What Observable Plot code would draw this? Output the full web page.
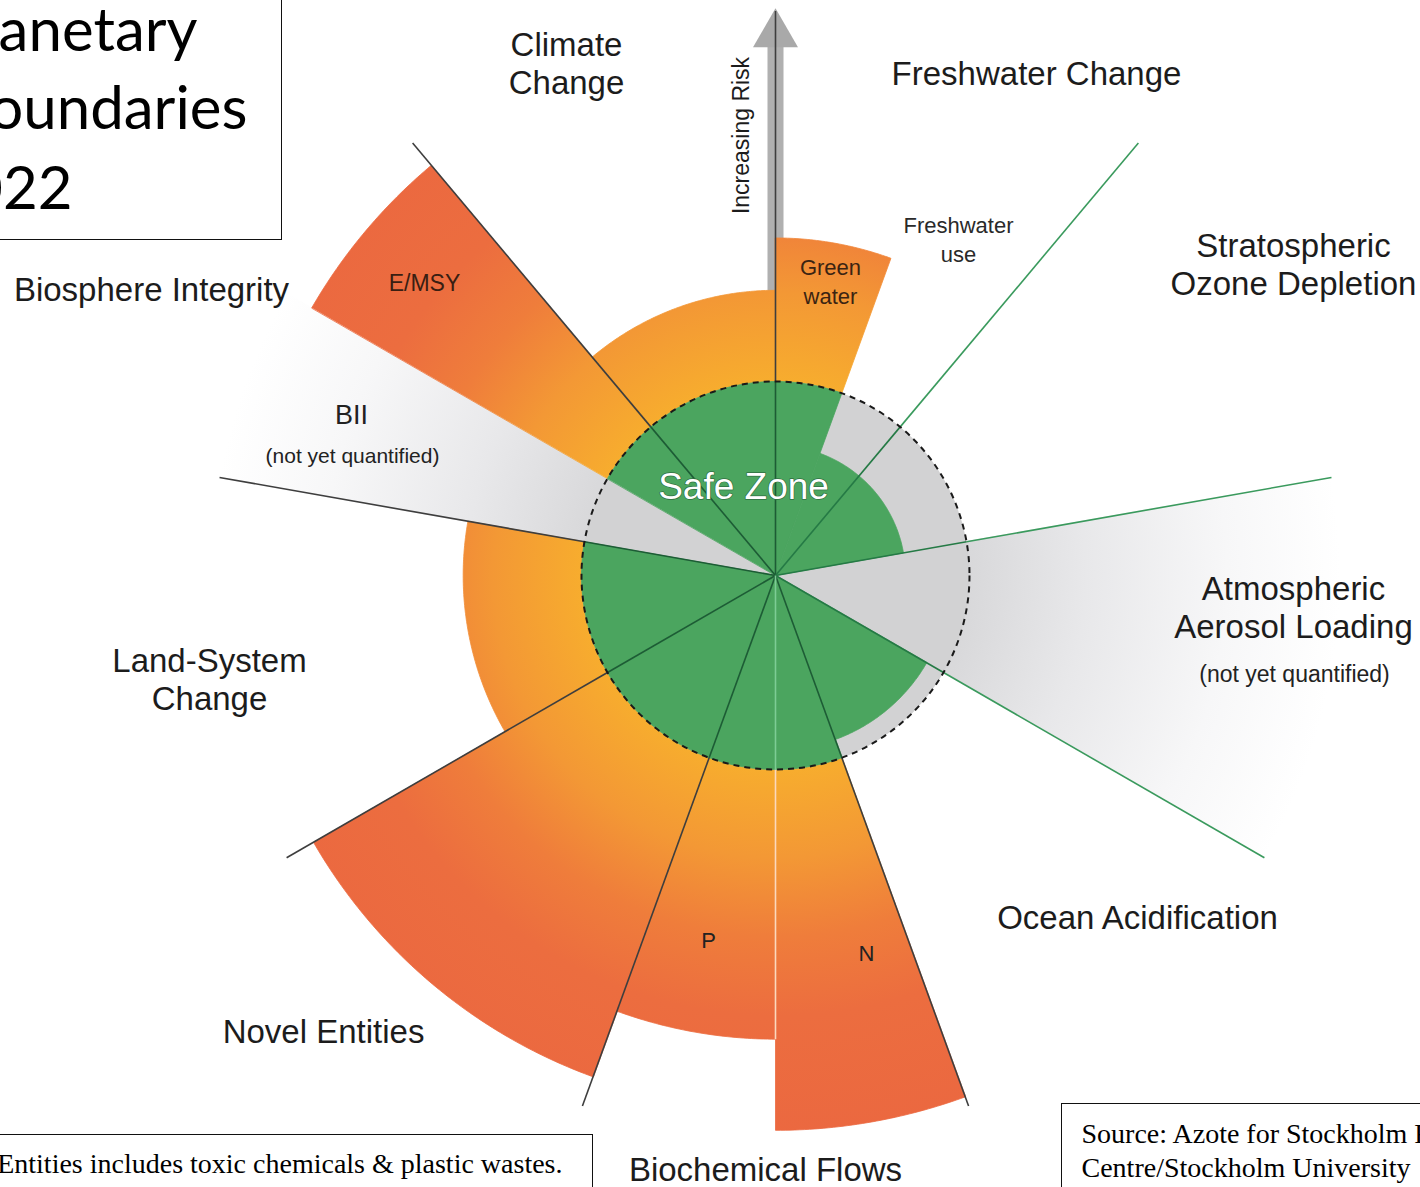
<!DOCTYPE html>
<html>
<head>
<meta charset="utf-8">
<script src="https://cdn.jsdelivr.net/npm/d3@7"></script>
<script src="https://cdn.jsdelivr.net/npm/@observablehq/plot@0.6"></script>
<style>
  html, body { margin: 0; padding: 0; background: #fff; }
  #wrap { position: relative; width: 1420px; height: 1187px; overflow: hidden; background: #fff; }
  #chart { position: absolute; left: 0; top: 0; }
  .box { position: absolute; border: 1.5px solid #111; box-sizing: border-box; pointer-events: none; }
</style>
</head>
<body>
<div id="wrap">
  <div id="chart"></div>
  <div class="box" style="left:-60px; top:-10px; width:342px; height:250px;"></div>
  <div class="box" style="left:-60px; top:1134px; width:653px; height:120px;"></div>
  <div class="box" style="left:1061px; top:1103px; width:420px; height:140px;"></div>
</div>
<script>
// ---------------- DATA ----------------
const boundaryNames = [
  "Climate Change", "Freshwater Change", "Stratospheric Ozone Depletion",
  "Atmospheric Aerosol Loading", "Ocean Acidification", "Biochemical Flows",
  "Novel Entities", "Land-System Change", "Biosphere Integrity"
];
// control variables (sub-segments), in clockwise order
const segmentNames = [
  "Climate change", "Green water", "Freshwater use", "Ozone depletion",
  "Aerosol loading", "Ocean acidification", "N", "P", "Novel entities",
  "Land-system change", "BII", "E/MSY"
];
const segmentBoundary = [0, 1, 1, 2, 3, 4, 5, 5, 6, 7, 8, 8];
// status relative to the boundary (1 = edge of safe zone); null = not yet quantified
const segmentValue = [1.47, 1.74, 0.67, 0.67, null, 0.90, 2.86, 2.39, 2.75, 1.61, null, 2.76];
const safeLimit = 1;
const scaleMax = 2.91;

// label texts
const boundaryLabels = [
  "Climate\nChange", "Freshwater Change", "Stratospheric\nOzone Depletion",
  "Atmospheric\nAerosol Loading", "Ocean Acidification", "Biochemical Flows",
  "Novel Entities", "Land-System\nChange", "Biosphere Integrity"
];
const segmentLabels = ["Green\nwater", "Freshwater\nuse", "P", "N", "E/MSY", "BII", "(not yet quantified)", "(not yet quantified)"];
const titleLines = ["Planetary", "Boundaries", "2022"];
const noteText = "Novel Entities includes toxic chemicals & plastic wastes.";
const sourceLines = ["Source: Azote for Stockholm Resilience", "Centre/Stockholm University"];
const axisLabel = "Increasing Risk";
const safeLabel = "Safe Zone";

// ---------------- LAYOUT ----------------
const W = 1420, H = 1187;
const CX = 775, CY = 575, R0 = 194;
const deg = Math.PI / 180;
const px = (a, r) => CX + r * R0 * Math.sin(a * deg);
const py = (a, r) => CY - r * R0 * Math.cos(a * deg);

const span = 360 / boundaryNames.length;
const firstStart = -span;

const segments = segmentNames.map((name, i) => {
  const b = segmentBoundary[i];
  const sib = segmentBoundary.map((bb, j) => bb === b ? j : -1).filter(j => j >= 0);
  const k = sib.indexOf(i), n = sib.length;
  const a0 = firstStart + b * span + k * span / n;
  return {name, b, a0, a1: a0 + span / n, value: segmentValue[i]};
});

function wedge(key, a0, a1, r0, r1) {
  const pts = [];
  const n = Math.max(2, Math.ceil((a1 - a0) / 0.5));
  for (let i = 0; i <= n; i++) {
    const a = a0 + (a1 - a0) * i / n;
    pts.push({key, x: px(a, r1), y: py(a, r1)});
  }
  if (r0 === 0) pts.push({key, x: CX, y: CY});
  else for (let i = n; i >= 0; i--) {
    const a = a0 + (a1 - a0) * i / n;
    pts.push({key, x: px(a, r0), y: py(a, r0)});
  }
  return pts;
}

const greyOuter = segments.filter(s => s.value == null).flatMap(s => wedge(s.name, s.a0, s.a1, 0, scaleMax));
const orange = segments.filter(s => s.value != null && s.value > safeLimit).flatMap(s => wedge(s.name, s.a0, s.a1, 0, s.value));
const green = segments.filter(s => s.value != null).flatMap(s => wedge(s.name, s.a0, s.a1, 0, Math.min(s.value, safeLimit)));

// dividers
const norm = a => ((a % 360) + 360) % 360;
const dividers = [];
boundaryNames.forEach((bn, i) => {
  const a = firstStart + i * span;
  const adj = segments.filter(s => Math.abs(norm(s.a1) - norm(a)) < 1e-6 || Math.abs(norm(s.a0) - norm(a)) < 1e-6);
  const over = adj.some(s => s.value != null && s.value > safeLimit);
  dividers.push({a, len: scaleMax, kind: over ? "dark" : "green"});
});
// internal divider between two sub-segments that both exceed the boundary
boundaryNames.forEach((bn, b) => {
  const sub = segments.filter(s => s.b === b);
  if (sub.length === 2 && sub.every(s => s.value != null && s.value > safeLimit)) {
    dividers.push({a: sub[0].a1, len: Math.min(sub[0].value, sub[1].value), kind: "internal"});
  }
});
const outerColor = {dark: "#3e3e3e", green: "#3a9a5d", internal: "#fbd8bd"};
const innerColor = {dark: "#1d5c35", green: "#257a45", internal: "#7dcc95"};

// label placement (page pixels)
const boundaryLabelPos = [
  [566, 62], [1036, 72], [1293, 263], [1293, 606], [1137, 916],
  [765, 1168], [323, 1030], [209, 678], [151, 288]
];
const segLabelPos = [
  {x: 830, y: 280, size: 22, color: "#3b2412"},
  {x: 958, y: 238, size: 22, color: "#2a2a2a"},
  {x: 708, y: 938, size: 22, color: "#222"},
  {x: 866, y: 951, size: 22, color: "#222"},
  {x: 424, y: 281, size: 23, color: "#3a1e12"},
  {x: 351, y: 412, size: 27, color: "#222"},
  {x: 352, y: 454, size: 21, color: "#222"},
  {x: 1294, y: 672, size: 23, color: "#222"}
];

const font = "'Liberation Sans', Arial, Helvetica, sans-serif";
const serif = "'Liberation Serif', 'Times New Roman', serif";

const bLabels = boundaryLabels.map((t, i) => ({t, x: boundaryLabelPos[i][0], y: boundaryLabelPos[i][1]}));
const sLabels = segmentLabels.map((t, i) => ({t, ...segLabelPos[i]}));

const titleLayout = [[197, 50], [247, 128], [72, 208]];
const titleData = titleLines.map((t, i) => ({t, x: titleLayout[i][0], y: titleLayout[i][1]}));
const sourceLayout = [[1081, 1142], [1081, 1176]];
const sourceData = sourceLines.map((t, i) => ({t, x: sourceLayout[i][0], y: sourceLayout[i][1]}));

const svg = Plot.plot({
  width: W, height: H,
  margin: 0,
  x: {domain: [0, W], range: [0, W], axis: null},
  y: {domain: [0, H], range: [0, H], axis: null},
  marks: [
    // risk arrow (beneath wedges)
    Plot.link([0], {x1: a => px(a, safeLimit), y1: a => py(a, safeLimit), x2: a => px(a, 2.73), y2: a => py(a, 2.73),
      stroke: "#b0b0b0", strokeWidth: 16, strokeLinecap: "butt"}),
    Plot.dot([0], {x: a => px(a, 2.79), y: a => py(a, 2.79), symbol: "triangle", r: 16.7, fill: "#a9a9a9", stroke: "none"}),
    // not-quantified sectors (grey fading)
    Plot.line(greyOuter, {x: "x", y: "y", z: "key", fill: "url(#greyGrad)", stroke: "url(#greyGrad)", strokeWidth: 0.8, curve: "linear-closed"}),
    // transgressed boundaries
    Plot.line(orange, {x: "x", y: "y", z: "key", fill: "url(#orangeGrad)", stroke: "url(#orangeGrad)", strokeWidth: 0.8, curve: "linear-closed"}),
    // safe operating space
    Plot.dot([0], {x: () => CX, y: () => CY, r: safeLimit * R0, fill: "#d2d2d3", stroke: "none"}),
    Plot.line(green, {x: "x", y: "y", z: "key", fill: "#4ba55f", stroke: "#4ba55f", strokeWidth: 0.8, curve: "linear-closed"}),
    // dividers
    Plot.link(dividers, {x1: d => px(d.a, safeLimit), y1: d => py(d.a, safeLimit), x2: d => px(d.a, d.len), y2: d => py(d.a, d.len),
      stroke: d => outerColor[d.kind], strokeWidth: 1.6}),
    Plot.link(dividers, {x1: () => CX, y1: () => CY, x2: d => px(d.a, safeLimit), y2: d => py(d.a, safeLimit),
      stroke: d => innerColor[d.kind], strokeWidth: 1.6}),
    Plot.dot([0], {x: () => CX, y: () => CY, r: safeLimit * R0, fill: "none", stroke: "#1a1a1a", strokeWidth: 2, strokeDasharray: "6,5"}),
    // labels
    Plot.text(bLabels, {x: "x", y: "y", text: "t", fontFamily: font, fontSize: 33, fill: "#1c1c1c", lineHeight: 1.18, lineAnchor: "middle", textAnchor: "middle"}),
    Plot.text(sLabels, {x: "x", y: "y", text: "t", fontFamily: font, fontSize: d => d.size, fill: d => d.color, lineHeight: 1.28, lineAnchor: "middle", textAnchor: "middle"}),
    Plot.text([safeLabel], {x: () => 743, y: () => 487, text: d => d, fontFamily: font, fontSize: 37, fill: "#ffffff", stroke: "#2f6f42", strokeWidth: 1.4, paintOrder: "stroke", lineAnchor: "middle", textAnchor: "middle"}),
    Plot.text([axisLabel], {x: () => 741, y: () => 135, text: d => d, rotate: -90, fontFamily: font, fontSize: 23, fill: "#1c1c1c", lineAnchor: "middle", textAnchor: "middle"}),
    // title, note, source
    Plot.text(titleData, {x: "x", y: "y", text: "t", fontFamily: "Lato, 'Open Sans', sans-serif", fontSize: 60, fill: "#000", textAnchor: "end", lineAnchor: "bottom"}),
    Plot.text([noteText], {x: () => 562, y: () => 1172, text: d => d, fontFamily: serif, fontSize: 28, fill: "#000", textAnchor: "end", lineAnchor: "bottom"}),
    Plot.text(sourceData, {x: "x", y: "y", text: "t", fontFamily: serif, fontSize: 28, fill: "#000", textAnchor: "start", lineAnchor: "bottom"})
  ]
});

// gradient definitions
const defs = d3.select(svg).insert("defs", ":first-child");
const og = defs.append("radialGradient").attr("id", "orangeGrad").attr("gradientUnits", "userSpaceOnUse")
  .attr("cx", CX).attr("cy", CY).attr("r", scaleMax * R0);
[[0, "#f8b92c"], [0.34, "#f7ad2e"], [0.5, "#f39835"], [0.64, "#ef7d3b"], [0.78, "#ec6d3f"], [1, "#eb6840"]]
  .forEach(([o, c]) => og.append("stop").attr("offset", o).attr("stop-color", c));
const gg = defs.append("radialGradient").attr("id", "greyGrad").attr("gradientUnits", "userSpaceOnUse")
  .attr("cx", CX).attr("cy", CY).attr("r", scaleMax * R0);
[[0, "#d3d3d5"], [0.34, "#d8d8da"], [0.55, "#e8e8ea"], [0.8, "#f7f7f8"], [1, "#ffffff"]]
  .forEach(([o, c]) => gg.append("stop").attr("offset", o).attr("stop-color", c));

document.getElementById("chart").appendChild(svg);
</script>
</body>
</html>
